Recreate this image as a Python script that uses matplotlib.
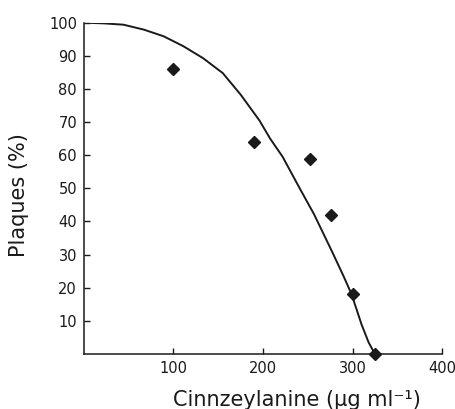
import matplotlib
matplotlib.use("Agg")
import matplotlib.pyplot as plt

# measured data points (concentration, % plaques)
conc = [100, 190, 252, 276, 300, 325]
plaques = [86, 64, 59, 42, 18, 0]

# fitted curve
curve_x = [0, 22, 44, 67, 89, 111, 133, 155, 175, 196, 208, 222, 240, 257,
           277, 290, 299, 310, 318, 325]
curve_y = [100, 99.8, 99.4, 97.9, 95.9, 92.9, 89.3, 84.8, 78.3, 70.5, 65,
           59.5, 50.5, 42.2, 31, 23.5, 18, 9, 3.5, 0]

x_ticks = [100, 200, 300, 400]
y_ticks = [10, 20, 30, 40, 50, 60, 70, 80, 90, 100]

ink = "#1a1a1a"

fig = plt.figure(figsize=(4.56, 4.09), dpi=100)
ax = fig.add_axes([84 / 456, 55 / 409, 358 / 456, 331.3 / 409])

ax.plot(curve_x, curve_y, color=ink, lw=1.4, solid_joinstyle="round")
ax.plot(conc, plaques, "D", color=ink, ms=6.5, clip_on=False)

ax.set_xlim(0, 400)
ax.set_ylim(0, 100)
ax.set_xticks(x_ticks)
ax.set_yticks(y_ticks)

for side in ["top", "right"]:
    ax.spines[side].set_visible(False)
for side in ["left", "bottom"]:
    ax.spines[side].set_linewidth(1.1)
    ax.spines[side].set_color(ink)

ax.tick_params(direction="in", length=4, width=1, color=ink,
               labelsize=10.5, labelcolor=ink, pad=5)

ax.set_xlabel("Cinnzeylanine (μg ml⁻¹)", fontsize=15, color=ink)
ax.set_ylabel("Plaques (%)", fontsize=15, color=ink)
ax.xaxis.set_label_coords(0.595, -0.109)
ax.yaxis.set_label_coords(-0.153, 0.48)

fig.savefig("out.png", dpi=100)
